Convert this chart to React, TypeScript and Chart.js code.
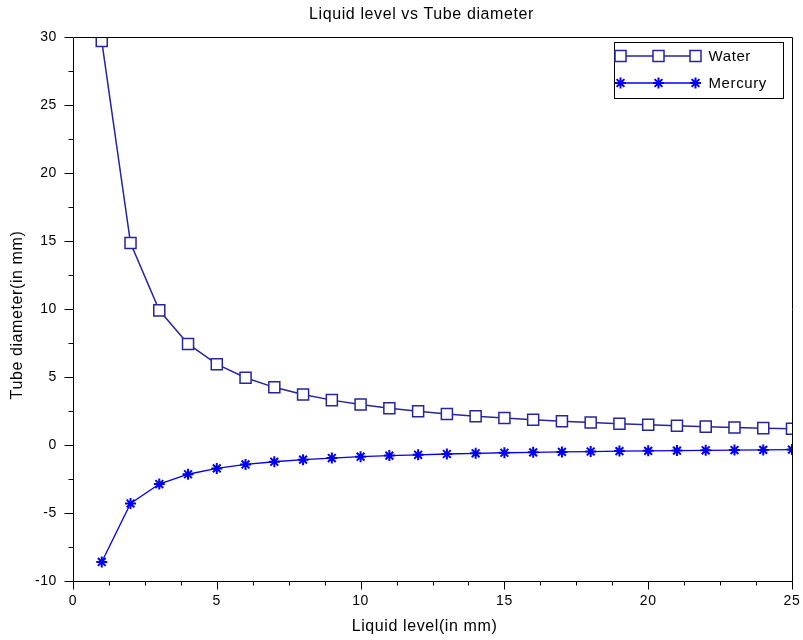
import React, { useEffect, useRef } from 'react';
import { Chart, registerables } from 'chart.js';

Chart.register(...registerables);

// ---- data ----
const liquidLevels = [1, 2, 3, 4, 5, 6, 7, 8, 9, 10, 11, 12, 13, 14, 15, 16, 17, 18, 19, 20, 21, 22, 23, 24, 25];
const waterDiameter = [29.7, 14.85, 9.9, 7.43, 5.94, 4.95, 4.24, 3.71, 3.3, 2.97, 2.7, 2.48, 2.28, 2.12, 1.98, 1.86, 1.75, 1.65, 1.56, 1.49, 1.41, 1.35, 1.29, 1.24, 1.19];
const mercuryDiameter = [-8.6, -4.3, -2.87, -2.15, -1.72, -1.43, -1.23, -1.08, -0.96, -0.86, -0.78, -0.72, -0.66, -0.61, -0.57, -0.54, -0.51, -0.48, -0.45, -0.43, -0.41, -0.39, -0.37, -0.36, -0.34];
const xTickValues = [0, 5, 10, 15, 20, 25];
const yTickValues = [-10, -5, 0, 5, 10, 15, 20, 25, 30];
const seriesNames = ['Water', 'Mercury'];
const chartTitle = 'Liquid level vs Tube diameter';
const xAxisTitle = 'Liquid level(in mm)';
const yAxisTitle = 'Tube diameter(in mm)';

// ---- styles ----
const WATER = '#25259c';
const MERCURY = '#0000f0';
const FONT = '"Liberation Sans", Arial, sans-serif';

function drawSquare(ctx: CanvasRenderingContext2D, x: number, y: number, color: string) {
  ctx.save();
  ctx.fillStyle = '#fff';
  ctx.strokeStyle = color;
  ctx.lineWidth = 1.5;
  ctx.beginPath();
  ctx.rect(x - 5.5, y - 5.5, 11, 11);
  ctx.fill();
  ctx.stroke();
  ctx.restore();
}

function drawStar(ctx: CanvasRenderingContext2D, x: number, y: number, color: string) {
  ctx.save();
  ctx.strokeStyle = color;
  ctx.lineWidth = 2;
  const r = 5.5;
  const d = r * Math.SQRT1_2;
  ctx.beginPath();
  ctx.moveTo(x - r, y); ctx.lineTo(x + r, y);
  ctx.moveTo(x, y - r); ctx.lineTo(x, y + r);
  ctx.moveTo(x - d, y - d); ctx.lineTo(x + d, y + d);
  ctx.moveTo(x - d, y + d); ctx.lineTo(x + d, y - d);
  ctx.stroke();
  ctx.restore();
}

const decorPlugin = {
  id: 'scilabDecor',
  beforeDraw(chart: any) {
    (chart.ctx as any).letterSpacing = '0.6px';
  },
  afterDraw(chart: any) {
    const ctx: CanvasRenderingContext2D = chart.ctx;
    const a = chart.chartArea;
    const xs = chart.scales.x;
    const ys = chart.scales.y;
    ctx.save();
    (ctx as any).letterSpacing = '0.6px';
    ctx.strokeStyle = '#000';
    ctx.lineWidth = 1;
    const L = Math.round(a.left) + 0.5;
    const R = Math.round(a.right) + 0.5;
    const T = Math.round(a.top) + 0.5;
    const B = Math.round(a.bottom) + 0.5;
    ctx.beginPath();
    ctx.rect(L, T, R - L, B - T);
    ctx.stroke();

    // y ticks (major + minor)
    ctx.beginPath();
    for (let v = ys.min; v <= ys.max + 1e-9; v += 2.5) {
      const p = Math.round(ys.getPixelForValue(v)) + 0.5;
      const len = Math.abs(v % 5) < 1e-9 ? 9 : 5;
      ctx.moveTo(L - len, p);
      ctx.lineTo(L, p);
    }
    // x ticks (major + minor)
    for (let v = xs.min; v <= xs.max + 1e-9; v += 1.25) {
      const p = Math.round(xs.getPixelForValue(v)) + 0.5;
      const len = Math.abs(v % 5) < 1e-9 ? 8 : 4;
      ctx.moveTo(p, B);
      ctx.lineTo(p, B + len);
    }
    ctx.stroke();

    // titles
    ctx.fillStyle = '#000';
    ctx.textAlign = 'center';
    ctx.textBaseline = 'middle';
    ctx.font = `16px ${FONT}`;
    const cx = (a.left + a.right) / 2;
    ctx.fillText(chartTitle, cx - 11, 15);
    ctx.fillText(xAxisTitle, cx - 8, a.bottom + 46);
    ctx.save();
    ctx.translate(18, (a.top + a.bottom) / 2 + 6);
    ctx.rotate(-Math.PI / 2);
    ctx.fillText(yAxisTitle, 0, 0);
    ctx.restore();

    // legend
    const bw = 169, bh = 56;
    const bx = Math.round(a.right - 178) + 0.5;
    const by = Math.round(a.top + 5) + 0.5;
    ctx.fillStyle = '#fff';
    ctx.fillRect(bx, by, bw, bh);
    ctx.strokeStyle = '#000';
    ctx.lineWidth = 1;
    ctx.strokeRect(bx, by, bw, bh);
    const rows = [by + 13.5, by + 40.5];
    const colors = [WATER, MERCURY];
    ctx.font = `15px ${FONT}`;
    ctx.textAlign = 'left';
    rows.forEach((ry, i) => {
      ctx.strokeStyle = colors[i];
      ctx.lineWidth = 1.5;
      ctx.beginPath();
      ctx.moveTo(bx + 3, ry);
      ctx.lineTo(bx + 82, ry);
      ctx.stroke();
      [bx + 6, bx + 44, bx + 81].forEach((mx) => {
        if (i === 0) drawSquare(ctx, mx, ry, colors[i]);
        else drawStar(ctx, mx, ry, colors[i]);
      });
      ctx.fillStyle = '#000';
      ctx.fillText(seriesNames[i], bx + 94, ry + 1);
    });
    ctx.restore();
  },
};

export default function App() {
  const ref = useRef<HTMLCanvasElement | null>(null);
  useEffect(() => {
    const canvas = ref.current;
    if (!canvas) return;
    Chart.defaults.font.family = FONT;
    const chart = new Chart(canvas, {
      type: 'line',
      data: {
        datasets: [
          {
            label: seriesNames[0],
            data: liquidLevels.map((l, i) => ({ x: l, y: waterDiameter[i] })),
            borderColor: WATER,
            borderWidth: 1.5,
            pointStyle: 'rect',
            pointRadius: 7.8,
            pointBackgroundColor: '#ffffff',
            pointBorderColor: WATER,
            pointBorderWidth: 1.5,
            tension: 0,
          },
          {
            label: seriesNames[1],
            data: liquidLevels.map((l, i) => ({ x: l, y: mercuryDiameter[i] })),
            borderColor: MERCURY,
            borderWidth: 1.3,
            pointStyle: 'star',
            pointRadius: 5.5,
            pointBorderColor: MERCURY,
            pointBorderWidth: 2,
            tension: 0,
          },
        ],
      },
      options: {
        animation: false,
        responsive: false,
        devicePixelRatio: 1,
        layout: { padding: { top: 37, right: 11, bottom: 0, left: 0 } },
        plugins: {
          legend: { display: false },
          title: { display: false },
          tooltip: { enabled: false },
        },
        scales: {
          x: {
            type: 'linear',
            min: 0,
            max: 25,
            afterBuildTicks: (s: any) => {
              s.ticks = xTickValues.map((v) => ({ value: v }));
            },
            afterFit: (s: any) => {
              s.height = 59;
              s.paddingLeft = 0;
              s.paddingRight = 0;
            },
            grid: { display: false, drawTicks: false },
            border: { display: false },
            ticks: { padding: 12, color: '#000', font: { size: 14 }, maxRotation: 0, autoSkip: false },
          },
          y: {
            type: 'linear',
            min: -10,
            max: 30,
            afterBuildTicks: (s: any) => {
              s.ticks = yTickValues.map((v) => ({ value: v }));
            },
            afterFit: (s: any) => {
              s.width = 73;
              s.paddingTop = 0;
              s.paddingBottom = 0;
            },
            grid: { display: false, drawTicks: false },
            border: { display: false },
            ticks: { padding: 16, color: '#000', font: { size: 14 }, autoSkip: false },
          },
        },
      },
      plugins: [decorPlugin],
    } as any);
    return () => chart.destroy();
  }, []);
  return (
    <div style={{ position: 'absolute', left: 0, top: 0, width: 803, height: 640, background: '#fff' }}>
      <canvas ref={ref} width={803} height={640} style={{ display: 'block' }} />
    </div>
  );
}
